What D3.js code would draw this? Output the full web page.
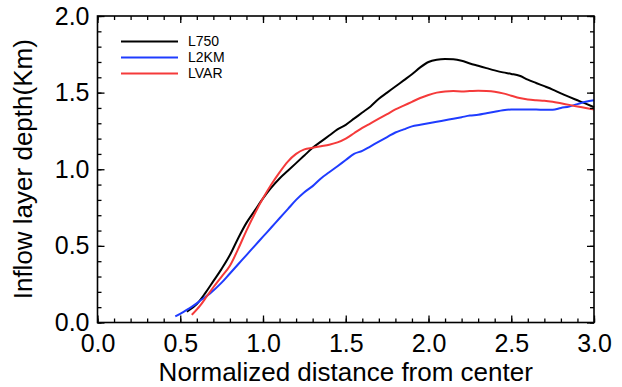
<!DOCTYPE html>
<html>
<head>
<meta charset="utf-8">
<script src="https://cdn.jsdelivr.net/npm/d3@7"></script>
<style>
  html, body { margin: 0; padding: 0; background: #fff; }
  svg { display: block; }
  text { font-family: "Liberation Sans", Arial, Helvetica, sans-serif; fill: #000; }
</style>
</head>
<body>
<svg id="chart" width="622" height="387"></svg>
<script>
// ---- data ----
const seriesNames = ["L750", "L2KM", "LVAR"];
const seriesColors = ["#000000", "#1f3cff", "#f53a3a"];

const xL750 = [0.54,0.60,0.65,0.70,0.75,0.80,0.85,0.90,0.95,1.00,1.05,1.10,1.15,1.20,1.25,1.30,1.35,1.40,1.45,1.50,1.55,1.60,1.65,1.70,1.75,1.80,1.85,1.90,1.95,2.00,2.05,2.10,2.15,2.20,2.25,2.30,2.35,2.40,2.45,2.50,2.55,2.60,2.65,2.70,2.75,2.80,2.85,2.90,2.95,3.00];
const yL750 = [0.07,0.12,0.19,0.27,0.35,0.44,0.55,0.65,0.73,0.81,0.88,0.94,0.99,1.04,1.09,1.14,1.18,1.22,1.26,1.29,1.33,1.37,1.41,1.46,1.50,1.54,1.58,1.62,1.665,1.70,1.715,1.72,1.718,1.708,1.69,1.675,1.66,1.645,1.632,1.622,1.61,1.585,1.563,1.542,1.52,1.495,1.472,1.45,1.428,1.405];

const xL2KM = [0.47,0.52,0.58,0.63,0.68,0.75,0.80,0.85,0.90,0.95,1.00,1.05,1.10,1.15,1.20,1.25,1.30,1.35,1.40,1.45,1.50,1.55,1.60,1.65,1.70,1.75,1.80,1.85,1.90,1.95,2.00,2.05,2.10,2.15,2.20,2.25,2.30,2.35,2.40,2.45,2.50,2.55,2.60,2.65,2.70,2.75,2.80,2.85,2.90,2.95,3.00];
const yL2KM = [0.04,0.07,0.11,0.15,0.19,0.26,0.32,0.38,0.44,0.50,0.56,0.62,0.68,0.74,0.80,0.85,0.89,0.94,0.98,1.02,1.06,1.10,1.12,1.15,1.18,1.21,1.24,1.26,1.28,1.29,1.30,1.31,1.32,1.33,1.34,1.35,1.355,1.365,1.375,1.385,1.39,1.39,1.39,1.39,1.388,1.388,1.40,1.41,1.425,1.44,1.45];

const xLVAR = [0.57,0.62,0.66,0.70,0.75,0.80,0.85,0.90,0.95,1.00,1.05,1.10,1.15,1.20,1.25,1.30,1.35,1.40,1.45,1.50,1.55,1.60,1.65,1.70,1.75,1.80,1.85,1.90,1.95,2.00,2.05,2.10,2.15,2.20,2.25,2.30,2.35,2.40,2.45,2.50,2.55,2.60,2.65,2.70,2.75,2.80,2.85,2.90,2.95,3.00];
const yLVAR = [0.05,0.11,0.17,0.23,0.30,0.37,0.48,0.60,0.71,0.81,0.90,0.98,1.05,1.10,1.13,1.14,1.15,1.16,1.175,1.20,1.235,1.27,1.30,1.33,1.36,1.39,1.415,1.44,1.465,1.485,1.50,1.508,1.51,1.508,1.51,1.512,1.51,1.505,1.495,1.48,1.465,1.455,1.45,1.447,1.44,1.43,1.42,1.41,1.40,1.39];

const xTicks = [0.0, 0.5, 1.0, 1.5, 2.0, 2.5, 3.0];
const yTicks = [0.0, 0.5, 1.0, 1.5, 2.0];
const xMinor = d3.range(0, 31).map(i => i / 10);
const yMinor = d3.range(0, 21).map(i => i / 10);
const xTitle = "Normalized distance from center";
const yTitle = "Inflow layer depth(Km)";

// ---- layout ----
const L = 97.5, R = 594, T = 16, B = 322.5;
const svg = d3.select("#chart");
const x = d3.scaleLinear().domain([0, 3]).range([L, R]);
const y = d3.scaleLinear().domain([0, 2]).range([B, T]);

// series lines
const line = d3.line().x(d => x(d[0])).y(d => y(d[1])).curve(d3.curveMonotoneX);
const series = [
  d3.zip(xL750, yL750),
  d3.zip(xL2KM, yL2KM),
  d3.zip(xLVAR, yLVAR)
];
const plotG = svg.append("g");
series.forEach((s, i) => {
  plotG.append("path")
    .attr("d", line(s))
    .attr("fill", "none")
    .attr("stroke", seriesColors[i])
    .attr("stroke-width", 2)
    .attr("stroke-linejoin", "round");
});

// axes
const tickFont = 25;
const titleFont = 26;
function styleAxis(g) {
  g.select(".domain").remove();
  g.selectAll("line").attr("stroke", "#000").attr("stroke-width", 1.3);
  g.selectAll("text").style("font-size", tickFont + "px").attr("fill", "#000")
    .style("font-family", '"Liberation Sans", Arial, Helvetica, sans-serif');
}
const majorLen = 7, minorLen = 4;
// bottom
svg.append("g").attr("transform", `translate(0,${B})`)
  .call(d3.axisBottom(x).tickValues(xMinor).tickSize(-minorLen).tickFormat(""))
  .call(styleAxis);
svg.append("g").attr("transform", `translate(0,${B})`)
  .call(d3.axisBottom(x).tickValues(xTicks).tickSize(-majorLen).tickPadding(12).tickFormat(d3.format(".1f")))
  .call(styleAxis);
// top
svg.append("g").attr("transform", `translate(0,${T})`)
  .call(d3.axisTop(x).tickValues(xMinor).tickSize(-minorLen).tickFormat(""))
  .call(styleAxis);
svg.append("g").attr("transform", `translate(0,${T})`)
  .call(d3.axisTop(x).tickValues(xTicks).tickSize(-majorLen).tickFormat(""))
  .call(styleAxis);
// left
svg.append("g").attr("transform", `translate(${L},0)`)
  .call(d3.axisLeft(y).tickValues(yMinor).tickSize(-minorLen).tickFormat(""))
  .call(styleAxis);
svg.append("g").attr("transform", `translate(${L},0)`)
  .call(d3.axisLeft(y).tickValues(yTicks).tickSize(-majorLen).tickPadding(8).tickFormat(d3.format(".1f")))
  .call(styleAxis);
// right
svg.append("g").attr("transform", `translate(${R},0)`)
  .call(d3.axisRight(y).tickValues(yMinor).tickSize(-minorLen).tickFormat(""))
  .call(styleAxis);
svg.append("g").attr("transform", `translate(${R},0)`)
  .call(d3.axisRight(y).tickValues(yTicks).tickSize(-majorLen).tickFormat(""))
  .call(styleAxis);

// frame
svg.append("rect")
  .attr("x", L).attr("y", T).attr("width", R - L).attr("height", B - T)
  .attr("fill", "none").attr("stroke", "#000").attr("stroke-width", 1.6);

// titles
svg.append("text")
  .attr("x", (L + R) / 2).attr("y", 381)
  .attr("text-anchor", "middle")
  .style("font-size", titleFont + "px")
  .text(xTitle);
svg.append("text")
  .attr("transform", `translate(32,${(T + B) / 2}) rotate(-90)`)
  .attr("text-anchor", "middle")
  .style("font-size", titleFont + "px")
  .text(yTitle);

// legend
const legG = svg.append("g");
seriesNames.forEach((name, i) => {
  const ly = 41.5 + i * 16;
  legG.append("line")
    .attr("x1", 121).attr("x2", 178).attr("y1", ly).attr("y2", ly)
    .attr("stroke", seriesColors[i]).attr("stroke-width", 2);
  legG.append("text")
    .attr("x", 188).attr("y", ly + 4.5)
    .style("font-size", "14px")
    .text(name);
});
</script>
</body>
</html>
